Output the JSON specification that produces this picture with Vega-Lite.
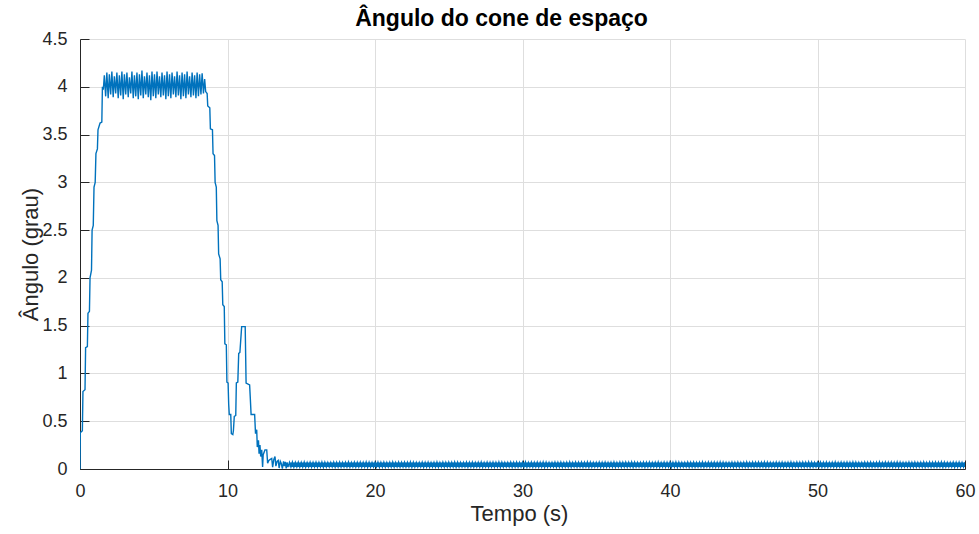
{
"$schema":"https://vega.github.io/schema/vega-lite/v6.json",
"autosize":"none",
"width":885,"height":430,
"padding":{"left":80,"top":39,"right":14,"bottom":65},
"background":"white",
"title":{"text":"Ângulo do cone de espaço","font":"Liberation Sans","fontSize":23,"fontWeight":"bold","color":"#000000","frame":"group","anchor":"middle","dx":-21,"dy":30,"offset":11,"baseline":"alphabetic"},
"config":{"view":{"stroke":null}},
"datasets":{
"envelope":[{"t":14.2,"lo":0.022,"hi":0.068},{"t":60,"lo":0.022,"hi":0.068}],
"signal":[
{"t":0,"v":0},{"t":0.02,"v":0.38},{"t":0.16,"v":0.4},{"t":0.2,"v":0.81},{"t":0.34,"v":0.83},{"t":0.38,"v":1.27},{"t":0.5,"v":1.28},{"t":0.54,"v":1.63},{"t":0.64,"v":1.65},{"t":0.68,"v":2.0},{"t":0.78,"v":2.08},{"t":0.82,"v":2.5},{"t":0.9,"v":2.55},{"t":0.95,"v":2.95},{"t":1.03,"v":3.0},{"t":1.08,"v":3.3},{"t":1.18,"v":3.35},{"t":1.22,"v":3.55},{"t":1.36,"v":3.62},{"t":1.48,"v":3.63},{"t":1.52,"v":4.0},{"t":1.58,"v":3.97},
{"t":1.65,"v":4.12},{"t":1.74,"v":3.9},{"t":1.82,"v":4.15},{"t":1.91,"v":3.88},{"t":1.99,"v":4.13},{"t":2.08,"v":3.92},{"t":2.16,"v":4.16},{"t":2.25,"v":3.89},{"t":2.33,"v":4.11},{"t":2.42,"v":3.93},{"t":2.5,"v":4.15},{"t":2.59,"v":3.88},{"t":2.67,"v":4.12},{"t":2.76,"v":3.91},{"t":2.84,"v":4.16},{"t":2.93,"v":3.87},{"t":3.01,"v":4.13},{"t":3.1,"v":3.92},{"t":3.18,"v":4.15},{"t":3.27,"v":3.89},{"t":3.35,"v":4.1},{"t":3.44,"v":3.93},{"t":3.52,"v":4.16},{"t":3.61,"v":3.88},{"t":3.69,"v":4.12},{"t":3.78,"v":3.9},{"t":3.86,"v":4.15},{"t":3.95,"v":3.87},{"t":4.03,"v":4.13},{"t":4.12,"v":3.91},{"t":4.2,"v":4.17},{"t":4.29,"v":3.88},{"t":4.37,"v":4.11},{"t":4.46,"v":3.92},{"t":4.54,"v":4.15},{"t":4.63,"v":3.89},{"t":4.71,"v":4.12},{"t":4.8,"v":3.86},{"t":4.88,"v":4.16},{"t":4.97,"v":3.9},{"t":5.05,"v":4.13},{"t":5.14,"v":3.88},{"t":5.22,"v":4.16},{"t":5.31,"v":3.92},{"t":5.39,"v":4.11},{"t":5.48,"v":3.89},{"t":5.56,"v":4.15},{"t":5.65,"v":3.91},{"t":5.73,"v":4.12},{"t":5.82,"v":3.87},{"t":5.9,"v":4.16},{"t":5.99,"v":3.9},{"t":6.07,"v":4.13},{"t":6.16,"v":3.88},{"t":6.24,"v":4.15},{"t":6.33,"v":3.92},{"t":6.41,"v":4.11},{"t":6.5,"v":3.89},{"t":6.58,"v":4.16},{"t":6.67,"v":3.91},{"t":6.75,"v":4.12},{"t":6.84,"v":3.87},{"t":6.92,"v":4.15},{"t":7.01,"v":3.9},{"t":7.09,"v":4.13},{"t":7.18,"v":3.88},{"t":7.26,"v":4.16},{"t":7.35,"v":3.92},{"t":7.43,"v":4.11},{"t":7.52,"v":3.89},{"t":7.6,"v":4.15},{"t":7.69,"v":3.91},{"t":7.77,"v":4.12},{"t":7.86,"v":3.88},{"t":7.94,"v":4.15},{"t":8.03,"v":3.9},{"t":8.11,"v":4.13},{"t":8.2,"v":3.92},{"t":8.28,"v":4.14},{"t":8.37,"v":3.93},{"t":8.45,"v":4.08},
{"t":8.52,"v":3.95},{"t":8.62,"v":3.93},{"t":8.66,"v":3.8},{"t":8.8,"v":3.78},{"t":8.84,"v":3.56},{"t":8.98,"v":3.55},{"t":9.02,"v":3.3},{"t":9.12,"v":3.28},{"t":9.16,"v":3.0},{"t":9.24,"v":2.95},{"t":9.28,"v":2.6},{"t":9.36,"v":2.55},{"t":9.4,"v":2.25},{"t":9.5,"v":2.2},{"t":9.54,"v":1.98},{"t":9.64,"v":1.96},{"t":9.68,"v":1.72},{"t":9.78,"v":1.7},{"t":9.82,"v":1.31},{"t":9.92,"v":1.3},{"t":9.96,"v":0.91},{"t":10.04,"v":0.9},{"t":10.08,"v":0.68},{"t":10.12,"v":0.57},{"t":10.22,"v":0.57},{"t":10.26,"v":0.37},{"t":10.36,"v":0.36},{"t":10.4,"v":0.4},{"t":10.46,"v":0.55},{"t":10.56,"v":0.56},{"t":10.6,"v":0.9},{"t":10.7,"v":0.91},{"t":10.76,"v":1.21},{"t":10.84,"v":1.22},{"t":10.96,"v":1.49},{"t":11.2,"v":1.49},{"t":11.26,"v":0.9},{"t":11.5,"v":0.88},{"t":11.54,"v":0.76},{"t":11.6,"v":0.57},{"t":11.84,"v":0.57},{"t":11.9,"v":0.37},{"t":11.98,"v":0.41},{"t":12.02,"v":0.23},{"t":12.1,"v":0.3},{"t":12.14,"v":0.16},{"t":12.2,"v":0.25},{"t":12.25,"v":0.13},{"t":12.32,"v":0.2},{"t":12.38,"v":0.02},{"t":12.42,"v":0.15},{"t":12.54,"v":0.2},{"t":12.66,"v":0.2},{"t":12.72,"v":0.06},{"t":12.8,"v":0.09},{"t":12.9,"v":0.1},{"t":13.0,"v":0.11},{"t":13.06,"v":0.02},{"t":13.14,"v":0.1},{"t":13.22,"v":0.13},{"t":13.28,"v":0.03},{"t":13.36,"v":0.08},{"t":13.44,"v":0.09},{"t":13.5,"v":0.01},{"t":13.58,"v":0.08},{"t":13.64,"v":0.06},{"t":13.72,"v":0.005},{"t":13.8,"v":0.08},{"t":13.86,"v":0.03},{"t":13.92,"v":0.075},{"t":13.98,"v":0.005},{"t":14.04,"v":0.07},{"t":14.1,"v":0.02},
{"t":14.2,"v":0.07},{"t":14.3,"v":0.02},{"t":14.4,"v":0.072},{"t":14.5,"v":0.018},{"t":14.6,"v":0.069},{"t":14.7,"v":0.021},{"t":14.8,"v":0.071},{"t":14.9,"v":0.019},
{"t":15,"v":0.07},{"t":15.1,"v":0.02},{"t":15.2,"v":0.072},{"t":15.3,"v":0.018},{"t":15.4,"v":0.068},{"t":15.5,"v":0.022},{"t":15.6,"v":0.071},{"t":15.7,"v":0.019},{"t":15.8,"v":0.069},{"t":15.9,"v":0.021},
{"t":16,"v":0.071},{"t":16.1,"v":0.019},{"t":16.2,"v":0.069},{"t":16.3,"v":0.021},{"t":16.4,"v":0.073},{"t":16.5,"v":0.017},{"t":16.6,"v":0.07},{"t":16.7,"v":0.02},{"t":16.8,"v":0.068},{"t":16.9,"v":0.022},
{"t":17,"v":0.069},{"t":17.1,"v":0.022},{"t":17.2,"v":0.071},{"t":17.3,"v":0.018},{"t":17.4,"v":0.07},{"t":17.5,"v":0.02},{"t":17.6,"v":0.072},{"t":17.7,"v":0.019},{"t":17.8,"v":0.067},{"t":17.9,"v":0.021},
{"t":18,"v":0.07},{"t":18.1,"v":0.02},{"t":18.2,"v":0.072},{"t":18.3,"v":0.018},{"t":18.4,"v":0.068},{"t":18.5,"v":0.022},{"t":18.6,"v":0.071},{"t":18.7,"v":0.019},{"t":18.8,"v":0.069},{"t":18.9,"v":0.021},
{"t":19,"v":0.071},{"t":19.1,"v":0.019},{"t":19.2,"v":0.069},{"t":19.3,"v":0.021},{"t":19.4,"v":0.073},{"t":19.5,"v":0.017},{"t":19.6,"v":0.07},{"t":19.7,"v":0.02},{"t":19.8,"v":0.068},{"t":19.9,"v":0.022},
{"t":20,"v":0.069},{"t":20.1,"v":0.022},{"t":20.2,"v":0.071},{"t":20.3,"v":0.018},{"t":20.4,"v":0.07},{"t":20.5,"v":0.02},{"t":20.6,"v":0.072},{"t":20.7,"v":0.019},{"t":20.8,"v":0.067},{"t":20.9,"v":0.021},
{"t":21,"v":0.07},{"t":21.1,"v":0.02},{"t":21.2,"v":0.072},{"t":21.3,"v":0.018},{"t":21.4,"v":0.068},{"t":21.5,"v":0.022},{"t":21.6,"v":0.071},{"t":21.7,"v":0.019},{"t":21.8,"v":0.069},{"t":21.9,"v":0.021},
{"t":22,"v":0.071},{"t":22.1,"v":0.019},{"t":22.2,"v":0.069},{"t":22.3,"v":0.021},{"t":22.4,"v":0.073},{"t":22.5,"v":0.017},{"t":22.6,"v":0.07},{"t":22.7,"v":0.02},{"t":22.8,"v":0.068},{"t":22.9,"v":0.022},
{"t":23,"v":0.069},{"t":23.1,"v":0.022},{"t":23.2,"v":0.071},{"t":23.3,"v":0.018},{"t":23.4,"v":0.07},{"t":23.5,"v":0.02},{"t":23.6,"v":0.072},{"t":23.7,"v":0.019},{"t":23.8,"v":0.067},{"t":23.9,"v":0.021},
{"t":24,"v":0.07},{"t":24.1,"v":0.02},{"t":24.2,"v":0.072},{"t":24.3,"v":0.018},{"t":24.4,"v":0.068},{"t":24.5,"v":0.022},{"t":24.6,"v":0.071},{"t":24.7,"v":0.019},{"t":24.8,"v":0.069},{"t":24.9,"v":0.021},
{"t":25,"v":0.071},{"t":25.1,"v":0.019},{"t":25.2,"v":0.069},{"t":25.3,"v":0.021},{"t":25.4,"v":0.073},{"t":25.5,"v":0.017},{"t":25.6,"v":0.07},{"t":25.7,"v":0.02},{"t":25.8,"v":0.068},{"t":25.9,"v":0.022},
{"t":26,"v":0.069},{"t":26.1,"v":0.022},{"t":26.2,"v":0.071},{"t":26.3,"v":0.018},{"t":26.4,"v":0.07},{"t":26.5,"v":0.02},{"t":26.6,"v":0.072},{"t":26.7,"v":0.019},{"t":26.8,"v":0.067},{"t":26.9,"v":0.021},
{"t":27,"v":0.07},{"t":27.1,"v":0.02},{"t":27.2,"v":0.072},{"t":27.3,"v":0.018},{"t":27.4,"v":0.068},{"t":27.5,"v":0.022},{"t":27.6,"v":0.071},{"t":27.7,"v":0.019},{"t":27.8,"v":0.069},{"t":27.9,"v":0.021},
{"t":28,"v":0.071},{"t":28.1,"v":0.019},{"t":28.2,"v":0.069},{"t":28.3,"v":0.021},{"t":28.4,"v":0.073},{"t":28.5,"v":0.017},{"t":28.6,"v":0.07},{"t":28.7,"v":0.02},{"t":28.8,"v":0.068},{"t":28.9,"v":0.022},
{"t":29,"v":0.069},{"t":29.1,"v":0.022},{"t":29.2,"v":0.071},{"t":29.3,"v":0.018},{"t":29.4,"v":0.07},{"t":29.5,"v":0.02},{"t":29.6,"v":0.072},{"t":29.7,"v":0.019},{"t":29.8,"v":0.067},{"t":29.9,"v":0.021},
{"t":30,"v":0.07},{"t":30.1,"v":0.02},{"t":30.2,"v":0.072},{"t":30.3,"v":0.018},{"t":30.4,"v":0.068},{"t":30.5,"v":0.022},{"t":30.6,"v":0.071},{"t":30.7,"v":0.019},{"t":30.8,"v":0.069},{"t":30.9,"v":0.021},
{"t":31,"v":0.071},{"t":31.1,"v":0.019},{"t":31.2,"v":0.069},{"t":31.3,"v":0.021},{"t":31.4,"v":0.073},{"t":31.5,"v":0.017},{"t":31.6,"v":0.07},{"t":31.7,"v":0.02},{"t":31.8,"v":0.068},{"t":31.9,"v":0.022},
{"t":32,"v":0.069},{"t":32.1,"v":0.022},{"t":32.2,"v":0.071},{"t":32.3,"v":0.018},{"t":32.4,"v":0.07},{"t":32.5,"v":0.02},{"t":32.6,"v":0.072},{"t":32.7,"v":0.019},{"t":32.8,"v":0.067},{"t":32.9,"v":0.021},
{"t":33,"v":0.07},{"t":33.1,"v":0.02},{"t":33.2,"v":0.072},{"t":33.3,"v":0.018},{"t":33.4,"v":0.068},{"t":33.5,"v":0.022},{"t":33.6,"v":0.071},{"t":33.7,"v":0.019},{"t":33.8,"v":0.069},{"t":33.9,"v":0.021},
{"t":34,"v":0.071},{"t":34.1,"v":0.019},{"t":34.2,"v":0.069},{"t":34.3,"v":0.021},{"t":34.4,"v":0.073},{"t":34.5,"v":0.017},{"t":34.6,"v":0.07},{"t":34.7,"v":0.02},{"t":34.8,"v":0.068},{"t":34.9,"v":0.022},
{"t":35,"v":0.069},{"t":35.1,"v":0.022},{"t":35.2,"v":0.071},{"t":35.3,"v":0.018},{"t":35.4,"v":0.07},{"t":35.5,"v":0.02},{"t":35.6,"v":0.072},{"t":35.7,"v":0.019},{"t":35.8,"v":0.067},{"t":35.9,"v":0.021},
{"t":36,"v":0.07},{"t":36.1,"v":0.02},{"t":36.2,"v":0.072},{"t":36.3,"v":0.018},{"t":36.4,"v":0.068},{"t":36.5,"v":0.022},{"t":36.6,"v":0.071},{"t":36.7,"v":0.019},{"t":36.8,"v":0.069},{"t":36.9,"v":0.021},
{"t":37,"v":0.071},{"t":37.1,"v":0.019},{"t":37.2,"v":0.069},{"t":37.3,"v":0.021},{"t":37.4,"v":0.073},{"t":37.5,"v":0.017},{"t":37.6,"v":0.07},{"t":37.7,"v":0.02},{"t":37.8,"v":0.068},{"t":37.9,"v":0.022},
{"t":38,"v":0.069},{"t":38.1,"v":0.022},{"t":38.2,"v":0.071},{"t":38.3,"v":0.018},{"t":38.4,"v":0.07},{"t":38.5,"v":0.02},{"t":38.6,"v":0.072},{"t":38.7,"v":0.019},{"t":38.8,"v":0.067},{"t":38.9,"v":0.021},
{"t":39,"v":0.07},{"t":39.1,"v":0.02},{"t":39.2,"v":0.072},{"t":39.3,"v":0.018},{"t":39.4,"v":0.068},{"t":39.5,"v":0.022},{"t":39.6,"v":0.071},{"t":39.7,"v":0.019},{"t":39.8,"v":0.069},{"t":39.9,"v":0.021},
{"t":40,"v":0.071},{"t":40.1,"v":0.019},{"t":40.2,"v":0.069},{"t":40.3,"v":0.021},{"t":40.4,"v":0.073},{"t":40.5,"v":0.017},{"t":40.6,"v":0.07},{"t":40.7,"v":0.02},{"t":40.8,"v":0.068},{"t":40.9,"v":0.022},
{"t":41,"v":0.069},{"t":41.1,"v":0.022},{"t":41.2,"v":0.071},{"t":41.3,"v":0.018},{"t":41.4,"v":0.07},{"t":41.5,"v":0.02},{"t":41.6,"v":0.072},{"t":41.7,"v":0.019},{"t":41.8,"v":0.067},{"t":41.9,"v":0.021},
{"t":42,"v":0.07},{"t":42.1,"v":0.02},{"t":42.2,"v":0.072},{"t":42.3,"v":0.018},{"t":42.4,"v":0.068},{"t":42.5,"v":0.022},{"t":42.6,"v":0.071},{"t":42.7,"v":0.019},{"t":42.8,"v":0.069},{"t":42.9,"v":0.021},
{"t":43,"v":0.071},{"t":43.1,"v":0.019},{"t":43.2,"v":0.069},{"t":43.3,"v":0.021},{"t":43.4,"v":0.073},{"t":43.5,"v":0.017},{"t":43.6,"v":0.07},{"t":43.7,"v":0.02},{"t":43.8,"v":0.068},{"t":43.9,"v":0.022},
{"t":44,"v":0.069},{"t":44.1,"v":0.022},{"t":44.2,"v":0.071},{"t":44.3,"v":0.018},{"t":44.4,"v":0.07},{"t":44.5,"v":0.02},{"t":44.6,"v":0.072},{"t":44.7,"v":0.019},{"t":44.8,"v":0.067},{"t":44.9,"v":0.021},
{"t":45,"v":0.07},{"t":45.1,"v":0.02},{"t":45.2,"v":0.072},{"t":45.3,"v":0.018},{"t":45.4,"v":0.068},{"t":45.5,"v":0.022},{"t":45.6,"v":0.071},{"t":45.7,"v":0.019},{"t":45.8,"v":0.069},{"t":45.9,"v":0.021},
{"t":46,"v":0.071},{"t":46.1,"v":0.019},{"t":46.2,"v":0.069},{"t":46.3,"v":0.021},{"t":46.4,"v":0.073},{"t":46.5,"v":0.017},{"t":46.6,"v":0.07},{"t":46.7,"v":0.02},{"t":46.8,"v":0.068},{"t":46.9,"v":0.022},
{"t":47,"v":0.069},{"t":47.1,"v":0.022},{"t":47.2,"v":0.071},{"t":47.3,"v":0.018},{"t":47.4,"v":0.07},{"t":47.5,"v":0.02},{"t":47.6,"v":0.072},{"t":47.7,"v":0.019},{"t":47.8,"v":0.067},{"t":47.9,"v":0.021},
{"t":48,"v":0.07},{"t":48.1,"v":0.02},{"t":48.2,"v":0.072},{"t":48.3,"v":0.018},{"t":48.4,"v":0.068},{"t":48.5,"v":0.022},{"t":48.6,"v":0.071},{"t":48.7,"v":0.019},{"t":48.8,"v":0.069},{"t":48.9,"v":0.021},
{"t":49,"v":0.071},{"t":49.1,"v":0.019},{"t":49.2,"v":0.069},{"t":49.3,"v":0.021},{"t":49.4,"v":0.073},{"t":49.5,"v":0.017},{"t":49.6,"v":0.07},{"t":49.7,"v":0.02},{"t":49.8,"v":0.068},{"t":49.9,"v":0.022},
{"t":50,"v":0.069},{"t":50.1,"v":0.022},{"t":50.2,"v":0.071},{"t":50.3,"v":0.018},{"t":50.4,"v":0.07},{"t":50.5,"v":0.02},{"t":50.6,"v":0.072},{"t":50.7,"v":0.019},{"t":50.8,"v":0.067},{"t":50.9,"v":0.021},
{"t":51,"v":0.07},{"t":51.1,"v":0.02},{"t":51.2,"v":0.072},{"t":51.3,"v":0.018},{"t":51.4,"v":0.068},{"t":51.5,"v":0.022},{"t":51.6,"v":0.071},{"t":51.7,"v":0.019},{"t":51.8,"v":0.069},{"t":51.9,"v":0.021},
{"t":52,"v":0.071},{"t":52.1,"v":0.019},{"t":52.2,"v":0.069},{"t":52.3,"v":0.021},{"t":52.4,"v":0.073},{"t":52.5,"v":0.017},{"t":52.6,"v":0.07},{"t":52.7,"v":0.02},{"t":52.8,"v":0.068},{"t":52.9,"v":0.022},
{"t":53,"v":0.069},{"t":53.1,"v":0.022},{"t":53.2,"v":0.071},{"t":53.3,"v":0.018},{"t":53.4,"v":0.07},{"t":53.5,"v":0.02},{"t":53.6,"v":0.072},{"t":53.7,"v":0.019},{"t":53.8,"v":0.067},{"t":53.9,"v":0.021},
{"t":54,"v":0.07},{"t":54.1,"v":0.02},{"t":54.2,"v":0.072},{"t":54.3,"v":0.018},{"t":54.4,"v":0.068},{"t":54.5,"v":0.022},{"t":54.6,"v":0.071},{"t":54.7,"v":0.019},{"t":54.8,"v":0.069},{"t":54.9,"v":0.021},
{"t":55,"v":0.071},{"t":55.1,"v":0.019},{"t":55.2,"v":0.069},{"t":55.3,"v":0.021},{"t":55.4,"v":0.073},{"t":55.5,"v":0.017},{"t":55.6,"v":0.07},{"t":55.7,"v":0.02},{"t":55.8,"v":0.068},{"t":55.9,"v":0.022},
{"t":56,"v":0.069},{"t":56.1,"v":0.022},{"t":56.2,"v":0.071},{"t":56.3,"v":0.018},{"t":56.4,"v":0.07},{"t":56.5,"v":0.02},{"t":56.6,"v":0.072},{"t":56.7,"v":0.019},{"t":56.8,"v":0.067},{"t":56.9,"v":0.021},
{"t":57,"v":0.07},{"t":57.1,"v":0.02},{"t":57.2,"v":0.072},{"t":57.3,"v":0.018},{"t":57.4,"v":0.068},{"t":57.5,"v":0.022},{"t":57.6,"v":0.071},{"t":57.7,"v":0.019},{"t":57.8,"v":0.069},{"t":57.9,"v":0.021},
{"t":58,"v":0.071},{"t":58.1,"v":0.019},{"t":58.2,"v":0.069},{"t":58.3,"v":0.021},{"t":58.4,"v":0.073},{"t":58.5,"v":0.017},{"t":58.6,"v":0.07},{"t":58.7,"v":0.02},{"t":58.8,"v":0.068},{"t":58.9,"v":0.022},
{"t":59,"v":0.069},{"t":59.1,"v":0.022},{"t":59.2,"v":0.071},{"t":59.3,"v":0.018},{"t":59.4,"v":0.07},{"t":59.5,"v":0.02},{"t":59.6,"v":0.072},{"t":59.7,"v":0.019},{"t":59.8,"v":0.067},{"t":59.9,"v":0.021},
{"t":60,"v":0.07}
]},
"layer":[
{"data":{"name":"envelope"},
"mark":{"type":"area","color":"#0072BD","opacity":1,"clip":true},
"encoding":{"x":{"field":"t","type":"quantitative"},"y":{"field":"lo","type":"quantitative"},"y2":{"field":"hi"}}},
{"data":{"name":"signal"},
"mark":{"type":"line","color":"#0072BD","strokeWidth":1.4,"clip":true},
"encoding":{"x":{"field":"t","type":"quantitative"},"y":{"field":"v","type":"quantitative"}}}
],
"encoding":{
"x":{"field":"t","type":"quantitative","scale":{"domain":[0,60],"nice":false},
"axis":{"title":"Tempo (s)","values":[0,10,20,30,40,50,60],"format":"~f","grid":true,"gridColor":"#dedede","gridWidth":1,"domainColor":"#262626","domainWidth":1,"tickColor":"#262626","tickSize":-9,"tickWidth":1,"labelFont":"Liberation Sans","labelFontSize":18,"labelColor":"#262626","labelPadding":36,"labelBaseline":"alphabetic","labelFlush":false,"labelOverlap":false,"titleFont":"Liberation Sans","titleFontSize":22,"titleFontWeight":"normal","titleColor":"#262626","titleX":439,"titleY":51,"titleBaseline":"alphabetic"}},
"y":{"field":"v","type":"quantitative","scale":{"domain":[0,4.5],"nice":false,"zero":false},
"axis":{"title":"Ângulo (grau)","values":[0,0.5,1,1.5,2,2.5,3,3.5,4,4.5],"format":"~f","grid":true,"gridColor":"#dedede","gridWidth":1,"domainColor":"#262626","domainWidth":1,"tickColor":"#262626","tickSize":-9,"tickWidth":1,"labelFont":"Liberation Sans","labelFontSize":18,"labelColor":"#262626","labelPadding":22,"labelBaseline":"middle","labelFlush":false,"labelOverlap":false,"titleFont":"Liberation Sans","titleFontSize":22,"titleFontWeight":"normal","titleColor":"#262626","titleX":-43,"titleY":215,"titleBaseline":"alphabetic","titleAngle":270}}
}
}
